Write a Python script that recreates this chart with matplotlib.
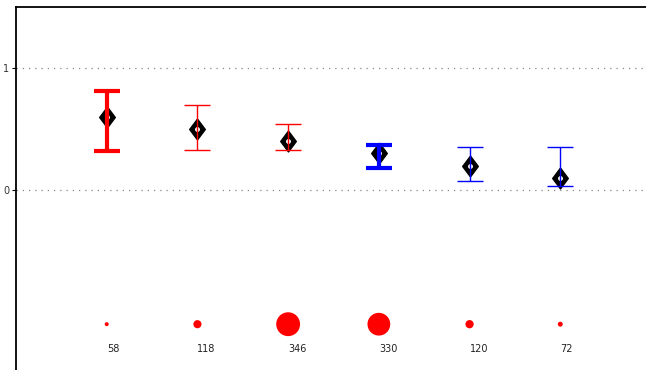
import numpy as np
import matplotlib.pyplot as plt

# group estimates with lower/upper interval bounds
positions = [1, 2, 3, 4, 5, 6]
estimates = [0.60, 0.50, 0.40, 0.30, 0.20, 0.10]
lower = [0.32, 0.33, 0.33, 0.18, 0.07, 0.03]
upper = [0.81, 0.70, 0.54, 0.37, 0.35, 0.35]
counts = [58, 118, 346, 330, 120, 72]
colors = ['red', 'red', 'red', 'blue', 'blue', 'blue']
widths = [3, 1, 1, 3, 1, 1]

count_row = -1.1
label_row = -1.3

fig = plt.figure(figsize=(6.46, 3.70), dpi=100)
ax = fig.add_axes([16 / 646, -3 / 370, 635 / 646, 366 / 370])

for y in (0, 1):
    ax.axhline(y, color='#888888', linestyle=(0, (1, 4)), linewidth=0.9, zorder=0)

# solid diamonds with a small white centre, interval bars on top
diamond = [(0, 1), (0.75, 0), (0, -1), (-0.75, 0), (0, 1)]
ax.plot(positions, estimates, linestyle='none', marker=diamond, markersize=15,
        markerfacecolor='black', markeredgecolor='black', markeredgewidth=1.0,
        zorder=2)
ax.plot(positions, estimates, linestyle='none', marker='o', markersize=3.5,
        markerfacecolor='white', markeredgecolor='none', zorder=2.5)
for x, est, lo, hi, c, lw in zip(positions, estimates, lower, upper, colors, widths):
    ax.errorbar([x], [est], yerr=[[est - lo], [hi - est]], fmt='none',
                ecolor=c, elinewidth=lw, capsize=9.5, capthick=lw, zorder=3)

# sample sizes: radius grows with n
diam_pt = [2 * n / 29 * 0.72 for n in counts]
ax.scatter(positions, [count_row] * len(positions), s=[d ** 2 for d in diam_pt],
           color='red', edgecolors='none', zorder=2)
for x, n in zip(positions, counts):
    ax.text(x, label_row, str(n), fontsize=7, ha='left', va='center',
            color='#222222')

ax.set_xlim(0, 7)
ax.set_ylim(-1.5, 1.5)
ax.set_xticks([])
ax.set_yticks([0, 1])
ax.set_yticklabels(['0', '1'])
ax.tick_params(axis='y', direction='out', length=3, width=0.8, labelsize=7,
               labelcolor='#333333', pad=2)
ax.spines['right'].set_visible(False)
ax.spines['bottom'].set_visible(False)
ax.spines['top'].set_linewidth(1.3)
ax.spines['left'].set_linewidth(1.3)

fig.savefig('out.png', dpi=100)
